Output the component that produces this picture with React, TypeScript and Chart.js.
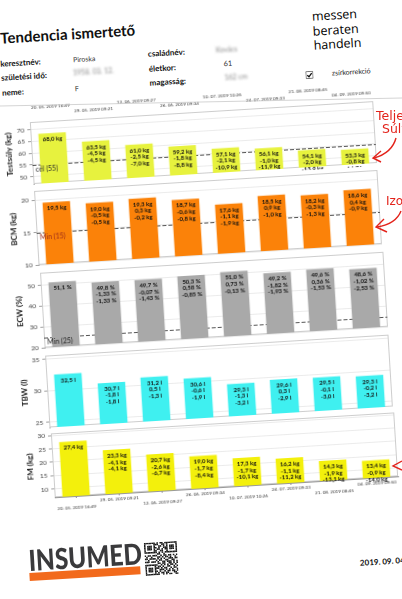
import React, { useEffect, useRef } from 'react';
import { Chart, registerables } from 'chart.js';

Chart.register(...registerables);

const FONT = "Lato, 'Open Sans', 'DejaVu Sans', sans-serif";

// ---------- data ----------
const dates = [
  '20. 05. 2019 16:49',
  '29. 05. 2019 09:21',
  '12. 06. 2019 09:27',
  '26. 06. 2019 09:34',
  '10. 07. 2019 10:26',
  '24. 07. 2019 09:33',
  '21. 08. 2019 08:45',
  '04. 09. 2019 09:50',
];

const weight = [68.0, 63.5, 61.0, 59.2, 57.1, 56.1, 54.1, 53.3];
const weightChange = [null, -4.5, -2.5, -1.8, -2.1, -1.0, -2.0, -0.8];
const weightTotal = [null, -4.5, -7.0, -8.8, -10.9, -11.9, -13.9, -14.7];
const weightTicks = [50, 55, 60, 65, 70];
const weightGoal = 55;

const bcm = [19.5, 19.0, 19.3, 18.7, 17.6, 18.5, 18.2, 18.6];
const bcmChange = [null, -0.5, 0.3, -0.6, -1.1, 0.9, -0.3, 0.4];
const bcmTotal = [null, -0.5, -0.2, -0.8, -1.9, -1.0, -1.3, -0.9];
const bcmTicks = [10, 15, 20];
const bcmMin = 15;

const ecw = [51.1, 49.8, 49.7, 50.3, 51.0, 49.2, 49.6, 48.6];
const ecwChange = [null, -1.33, -0.07, 0.58, 0.73, -1.82, 0.36, -1.02];
const ecwTotal = [null, -1.33, -1.43, -0.85, -0.13, -1.93, -1.53, -2.53];
const ecwTicks = [20, 30, 40, 50];
const ecwMin = 25;

const tbw = [32.5, 30.7, 31.2, 30.6, 29.3, 29.6, 29.5, 29.3];
const tbwChange = [null, -1.8, 0.5, -0.6, -1.3, 0.3, -0.1, -0.2];
const tbwTotal = [null, -1.8, -1.3, -1.9, -3.2, -2.9, -3.0, -3.2];
const tbwTicks = [25, 30, 35];

const fm = [27.4, 23.3, 20.7, 19.0, 17.3, 16.2, 14.3, 13.4];
const fmChange = [null, -4.1, -2.6, -1.7, -1.7, -1.1, -1.9, -0.9];
const fmTotal = [null, -4.1, -6.7, -8.4, -10.1, -11.2, -13.1, -14.0];
const fmTicks = [10, 15, 20, 25, 30];

// ---------- panel definitions ----------
type PanelDef = {
  title: string;
  values: number[];
  change: (number | null)[];
  total: (number | null)[];
  unit: string;
  dd: number;
  color: string;
  min: number;
  max: number;
  ticks: number[];
  ref?: number;
  refLabel?: string;
  refColor?: string;
  top: number;
  height: number;
  left: number;
  padTop: number;
  padBottom: number;
  axis: 'top' | 'bottom' | 'none';
};

const panels: PanelDef[] = [
  {
    title: 'Testsúly (kg)', values: weight, change: weightChange, total: weightTotal, unit: 'kg', dd: 1,
    color: '#e7f23e', min: 46.8, max: 73.2, ticks: weightTicks, ref: weightGoal, refLabel: `cél (${weightGoal})`, refColor: '#2b2b2b',
    top: 89, height: 88, left: 0, padTop: 0, padBottom: 3, axis: 'top',
  },
  {
    title: 'BCM (kg)', values: bcm, change: bcmChange, total: bcmTotal, unit: 'kg', dd: 1,
    color: '#fb8209', min: 10, max: 21.4, ticks: bcmTicks, ref: bcmMin, refLabel: `Min (${bcmMin})`, refColor: '#9a2a1c',
    top: 177, height: 82, left: 0, padTop: 4, padBottom: 4, axis: 'none',
  },
  {
    title: 'ECW (%)', values: ecw, change: ecwChange, total: ecwTotal, unit: '%', dd: 2,
    color: '#a9a9a9', min: 20, max: 56, ticks: ecwTicks, ref: ecwMin, refLabel: `Min (${ecwMin})`, refColor: '#1e1e1e',
    top: 259, height: 83, left: 1, padTop: 4, padBottom: 4, axis: 'none',
  },
  {
    title: 'TBW (l)', values: tbw, change: tbwChange, total: tbwTotal, unit: 'l', dd: 1,
    color: '#3ff0f0', min: 24.2, max: 35.6, ticks: tbwTicks,
    top: 342, height: 80, left: 1, padTop: 4, padBottom: 4, axis: 'none',
  },
  {
    title: 'FM (kg)', values: fm, change: fmChange, total: fmTotal, unit: 'kg', dd: 1,
    color: '#f3f00c', min: 6.8, max: 30.85, ticks: fmTicks,
    top: 420, height: 86, left: 2, padTop: 4, padBottom: 0, axis: 'bottom',
  },
];

const fmt = (v: number, d: number) => v.toFixed(d).replace('.', ',');

const CW = 395;

function Panel({ p }: { p: PanelDef }) {
  const ref = useRef<HTMLCanvasElement>(null);
  useEffect(() => {
    const canvas = ref.current!;
    const lines = p.values.map((v, i) => {
      const out = [`${fmt(v, 1)} ${p.unit}`];
      const c = p.change[i];
      const t = p.total[i];
      if (c != null) out.push(`${fmt(c, p.dd)} ${p.unit}`);
      if (t != null) out.push(`${fmt(t, p.dd)} ${p.unit}`);
      return out;
    });

    const deco = {
      id: 'deco',
      beforeDatasetsDraw(chart: any) {
        const { ctx, chartArea: a, scales } = chart;
        ctx.save();
        ctx.strokeStyle = '#cdcdcd';
        ctx.lineWidth = 1;
        ctx.strokeRect(a.left + 0.5, a.top + 0.5, a.right - a.left - 1, a.bottom - a.top - 1);
        if (p.ref != null) {
          const y = Math.round(scales.y.getPixelForValue(p.ref)) + 0.5;
          ctx.setLineDash([4, 2]);
          ctx.strokeStyle = '#555';
          ctx.lineWidth = 1.2;
          ctx.beginPath();
          ctx.moveTo(a.left, y);
          ctx.lineTo(a.right, y);
          ctx.stroke();
        }
        ctx.restore();
      },
      afterDatasetsDraw(chart: any) {
        const { ctx, chartArea: a } = chart;
        const meta = chart.getDatasetMeta(0);
        ctx.save();
        ctx.font = `bold 6px ${FONT}`;
        ctx.fillStyle = '#111';
        ctx.textAlign = 'center';
        ctx.textBaseline = 'middle';
        meta.data.forEach((bar: any, i: number) => {
          lines[i].forEach((t, j) => ctx.fillText(t, bar.x, bar.y + 6 + j * 6.6));
        });
        if (p.ref != null && p.refLabel) {
          const y = chart.scales.y.getPixelForValue(p.ref);
          ctx.font = `7px ${FONT}`;
          ctx.fillStyle = p.refColor || '#222';
          ctx.textAlign = 'left';
          ctx.textBaseline = 'top';
          ctx.fillText(p.refLabel, a.left + 3, y + 1.5);
        }
        ctx.restore();
      },
    };

    let labels: any[] = dates;
    let xScale: any = { display: false, offset: true };
    if (p.axis === 'top') {
      labels = dates.map((d, i) => (i % 2 === 0 ? [d, ''] : ['', d]));
      xScale = {
        position: 'top',
        offset: true,
        grid: { display: false, drawTicks: false },
        border: { display: false },
        ticks: {
          autoSkip: false, maxRotation: 0, minRotation: 0, padding: 5.2,
          font: { size: 4.6, lineHeight: 1.33, family: FONT }, color: '#3a3a3a',
        },
        afterFit: (s: any) => { s.height = 23; s.paddingLeft = 0; s.paddingRight = 0; },
      };
    } else if (p.axis === 'bottom') {
      labels = dates.map((d, i) => (i % 2 === 0 ? ['', d] : [d, '']));
      xScale = {
        position: 'bottom',
        offset: true,
        grid: { display: true, drawOnChartArea: false, drawTicks: true, tickLength: 2, offset: false, color: '#888' },
        border: { display: true, color: '#999', width: 1 },
        ticks: {
          autoSkip: false, maxRotation: 0, minRotation: 0, padding: 0,
          font: { size: 4.6, lineHeight: 1.33, family: FONT }, color: '#3a3a3a',
        },
        afterFit: (s: any) => { s.height = 18; s.paddingLeft = 0; s.paddingRight = 0; },
      };
    }

    const chart = new Chart(canvas, {
      type: 'bar',
      data: {
        labels,
        datasets: [{
          data: p.values,
          backgroundColor: p.color,
          borderWidth: 0,
          barPercentage: 0.64,
          categoryPercentage: 1,
        }],
      },
      options: {
        responsive: false,
        animation: false,
        devicePixelRatio: 1,
        layout: { padding: { left: 0, right: CW - 385, top: p.padTop, bottom: p.padBottom } },
        plugins: { legend: { display: false }, tooltip: { enabled: false } },
        scales: {
          x: xScale,
          y: {
            min: p.min,
            max: p.max,
            afterBuildTicks: (s: any) => { s.ticks = p.ticks.map((v) => ({ value: v })); },
            grid: { color: '#e6e6e6', lineWidth: 0.8, tickLength: 3, drawTicks: true, tickColor: '#888' },
            border: { display: true, color: '#8a8a8a', width: 1 },
            ticks: { padding: 3, font: { size: 6.5, family: FONT }, color: '#444', callback: (v: any) => String(v) },
            title: {
              display: true, text: p.title, color: '#1e1e1e',
              font: { size: 8, weight: 'bold', family: FONT },
              padding: { top: 14, bottom: 0 },
            },
            afterFit: (s: any) => { s.width = 41; s.paddingTop = 0; s.paddingBottom = 0; },
          },
        },
      } as any,
      plugins: [deco as any],
    });
    return () => chart.destroy();
  }, [p]);
  return (
    <canvas
      ref={ref}
      width={CW}
      height={p.height}
      style={{ position: 'absolute', left: p.left, top: p.top, width: CW, height: p.height }}
    />
  );
}

// ---------- header / footer helpers ----------
function Txt(props: { x: number; cy: number; size: number; bold?: boolean; color?: string; family?: string; blur?: number; children: React.ReactNode }) {
  const { x, cy, size, bold, color, family, blur, children } = props;
  return (
    <div
      style={{
        position: 'absolute', left: x, top: cy - size * 0.6, fontSize: size, lineHeight: `${size * 1.2}px`,
        fontWeight: bold ? 700 : 400, color: color || '#111', fontFamily: family || FONT, whiteSpace: 'nowrap',
        filter: blur ? `blur(${blur}px)` : undefined,
      }}
    >
      {children}
    </div>
  );
}

const finder = ['1111111', '1000001', '1011101', '1011101', '1011101', '1000001', '1111111'];
const qrTop = ['0101101', '1100110', '0011010', '1010011', '0110101', '1001100', '1010101', '0110010'];
const qrMid = [
  '101101110010110110101',
  '010010001101011010010',
  '110111101010100111011',
  '001000010110011001100',
  '111011101001101110101',
];
const qrBot = [
  '01101100110101',
  '10010101011010',
  '01101001100101',
  '11010110010110',
  '00111010101001',
  '10100101101101',
  '01011011000110',
  '11001010110011',
];

function QR({ x, y, size }: { x: number; y: number; size: number }) {
  const rows: string[] = [];
  for (let r = 0; r < 7; r++) rows.push(finder[r] + qrTop[r] + finder[r]);
  rows.push('0000000' + qrTop[7] + '0000000');
  qrMid.forEach((m) => rows.push(m));
  rows.push('0000000' + qrBot[0]);
  for (let r = 0; r < 7; r++) rows.push(finder[r] + qrBot[r + 1]);
  const rects: React.ReactNode[] = [];
  rows.forEach((row, r) => {
    for (let c = 0; c < 21; c++) {
      if (row[c] === '1') rects.push(<rect key={`${r}-${c}`} x={c} y={r} width={1.02} height={1.02} fill="#1a1a1a" />);
    }
  });
  return (
    <svg viewBox="0 0 21 21" width={size} height={size} style={{ position: 'absolute', left: x, top: y }}>
      {rects}
    </svg>
  );
}

export default function App() {
  return (
    <div style={{ position: 'fixed', left: 0, top: 0, width: 402, height: 599, overflow: 'hidden', background: '#fff' }}>
      <div
        style={{
          position: 'absolute', left: 0, top: 0, width: 402, height: 599,
          transform: 'rotate(-3.5deg)', transformOrigin: '201px 300px', fontFamily: FONT, color: '#111',
        }}
      >
        {/* header */}
        <Txt x={16.6} cy={25.5} size={15} bold>Tendencia ismertető</Txt>
        <Txt x={329} cy={23.6} size={12.5} color="#000" family="'Open Sans', Lato, sans-serif">messen</Txt>
        <Txt x={329} cy={38} size={12.5} color="#000" family="'Open Sans', Lato, sans-serif">beraten</Txt>
        <Txt x={329} cy={52.5} size={12.5} color="#000" family="'Open Sans', Lato, sans-serif">handeln</Txt>

        <Txt x={15} cy={52.5} size={8} bold>keresztnév:</Txt>
        <Txt x={15} cy={66.4} size={8} bold>születési idő:</Txt>
        <Txt x={15} cy={81.5} size={8} bold>neme:</Txt>
        <Txt x={88} cy={52.5} size={7} color="#333">Piroska</Txt>
        <Txt x={87} cy={65.5} size={7} color="#888" blur={1.2}>1958. 03. 12.</Txt>
        <Txt x={88} cy={81} size={7} color="#333">F</Txt>

        <Txt x={163} cy={52} size={8} bold>családnév:</Txt>
        <Txt x={163} cy={66.5} size={8} bold>életkor:</Txt>
        <Txt x={163} cy={80.5} size={8} bold>magasság:</Txt>
        <Txt x={231} cy={51} size={7} color="#888" blur={1.2}>Kovács</Txt>
        <Txt x={238} cy={65.5} size={7.5} color="#333">61</Txt>
        <Txt x={238} cy={79.5} size={7} color="#888" blur={1.2}>162 cm</Txt>

        <svg width={8} height={8} viewBox="0 0 8 8" style={{ position: 'absolute', left: 318.5, top: 78 }}>
          <rect x={0.5} y={0.5} width={7} height={7} fill="#fff" stroke="#555" strokeWidth={0.8} />
          <path d="M1.8 4.2 L3.4 5.8 L6.3 2.2" fill="none" stroke="#111" strokeWidth={1.3} />
        </svg>
        <Txt x={345.5} cy={81.5} size={7} color="#222">zsírkorrekció</Txt>

        {/* charts */}
        {panels.map((p, i) => (
          <Panel key={i} p={p} />
        ))}

        {/* footer */}
        <div
          style={{
            position: 'absolute', left: 13, top: 534.2, fontSize: 29, lineHeight: '29px', fontWeight: 900,
            color: '#3a3a3c', fontFamily: FONT, transform: 'scaleX(0.84)', transformOrigin: '0 0', whiteSpace: 'nowrap',
          }}
        >
          INSUMED
        </div>
        <div style={{ position: 'absolute', left: 13, top: 562, width: 111, height: 8, background: '#f26a1c' }} />
        <QR x={129} y={538.5} size={33} />
        <Txt x={343.6} cy={573} size={8} bold>2019. 09. 04.</Txt>
      </div>

      {/* annotations drawn on the photo */}
      <svg width={402} height={599} style={{ position: 'absolute', left: 0, top: 0, pointerEvents: 'none' }}>
        <line x1={0} y1={106} x2={402} y2={98} stroke="#c9c9c9" strokeWidth={0.8} />
        <text x={376} y={120} fontSize={12.5} fill="#e3231b" fontFamily="'DejaVu Sans', sans-serif">Teljes</text>
        <text x={382} y={133} fontSize={12.5} fill="#e3231b" fontFamily="'DejaVu Sans', sans-serif">Súly</text>
        <path d="M396 138 Q392 153 374 158" fill="none" stroke="#e3231b" strokeWidth={1.4} />
        <path d="M381 151 L373 158 L381 162" fill="none" stroke="#e3231b" strokeWidth={1.4} />
        <text x={386} y={205} fontSize={12} fill="#e3231b" fontFamily="'DejaVu Sans', sans-serif">Izom</text>
        <path d="M401 211 Q396 224 377 227" fill="none" stroke="#e3231b" strokeWidth={1.4} />
        <path d="M384 219 L376 227 L387 232" fill="none" stroke="#e3231b" strokeWidth={1.4} />
        <path d="M402 461 L393 466 L402 470" fill="none" stroke="#e3231b" strokeWidth={1.4} />
      </svg>
    </div>
  );
}
